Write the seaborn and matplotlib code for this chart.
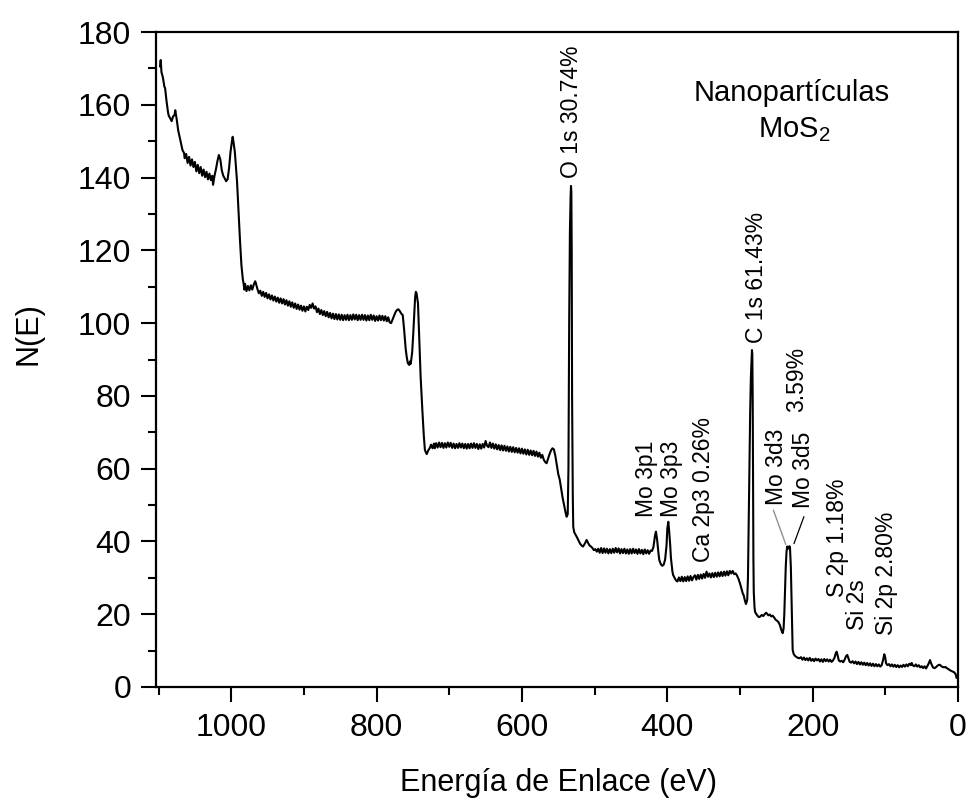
import matplotlib
matplotlib.use("Agg")
import matplotlib.pyplot as plt
from matplotlib.ticker import MultipleLocator
import seaborn as sns
import pandas as pd

# ---------------- data: (binding energy eV, N(E)) ----------------
# Region 1: high binding energy background (1098-984 eV)
region_high = [
    (1098, 170.5), (1097, 172.3), (1096, 169.0), (1094, 167.5), (1092, 165.0), (1091, 164.6),
    (1089, 161.0), (1087, 158.0), (1086, 157.0), (1084, 156.3), (1082, 155.5), (1080, 156.8),
    (1078, 157.2), (1077, 158.5), (1075, 156.0), (1073, 153.0), (1071, 151.2), (1069, 149.5),
    (1067, 147.5), (1065, 146.8), (1064, 145.3), (1062, 146.5), (1060, 144.0), (1058, 145.7),
    (1056, 143.3), (1054, 145.0), (1052, 142.9), (1050, 144.3), (1048, 141.7), (1046, 143.5),
    (1044, 141.2), (1042, 142.9), (1040, 140.5), (1038, 142.2), (1036, 140.1), (1034, 141.6),
    (1032, 139.5), (1030, 141.1), (1028, 139.3), (1026, 140.5), (1025, 138.0), (1023, 140.5),
    (1021, 142.3), (1019, 144.5), (1017, 146.2), (1015, 145.0), (1013, 142.0), (1011, 140.5),
    (1009, 139.8), (1007, 139.0), (1005, 139.5), (1003, 142.5), (1001, 147.0), (999, 150.0),
    (998, 151.2), (997, 150.0), (995, 147.0), (993, 141.5), (992, 138.9), (990, 131.0),
    (988, 123.0), (986, 116.0), (984, 112.0),
]

# Region 2: plateau and O KLL Auger structure (983-721 eV)
region_auger = [
    (983, 110.9), (982, 109.2), (981, 110.8), (979, 108.8), (977, 110.2), (975, 109.0),
    (973, 110.4), (971, 109.2), (969, 110.6), (967, 111.5), (966, 110.9), (964, 109.4),
    (962, 108.2), (960, 108.9), (958, 107.5), (956, 108.6), (954, 107.2), (952, 108.3),
    (950, 106.8), (948, 107.9), (946, 106.5), (944, 107.6), (942, 106.2), (940, 107.3),
    (938, 105.9), (936, 107.0), (934, 105.6), (932, 106.8), (930, 105.4), (928, 106.6),
    (926, 105.1), (924, 106.3), (922, 104.8), (920, 106.0), (918, 104.5), (916, 105.7),
    (914, 104.2), (912, 105.4), (910, 103.9), (908, 105.1), (906, 103.7), (904, 104.8),
    (902, 103.4), (900, 104.6), (898, 103.2), (896, 104.5), (894, 103.6), (892, 105.0),
    (890, 104.2), (888, 105.4), (886, 104.0), (884, 104.6), (882, 103.0), (880, 104.0),
    (878, 102.5), (876, 103.6), (874, 102.2), (872, 103.3), (870, 101.9), (868, 103.1),
    (866, 101.6), (864, 102.8), (862, 101.3), (860, 102.6), (858, 101.1), (856, 102.5),
    (854, 101.0), (852, 102.4), (850, 100.9), (848, 102.3), (846, 100.8), (844, 102.2),
    (842, 100.9), (840, 102.3), (838, 100.8), (836, 102.2), (834, 100.9), (832, 102.4),
    (830, 101.0), (828, 102.3), (826, 100.8), (824, 102.2), (822, 100.9), (820, 102.3),
    (818, 100.9), (816, 102.2), (814, 100.7), (812, 102.1), (810, 100.8), (808, 102.3),
    (806, 100.9), (804, 102.1), (802, 100.6), (800, 101.9), (798, 100.7), (796, 102.1),
    (794, 100.8), (792, 102.0), (790, 100.7), (788, 101.9), (786, 100.5), (784, 101.6),
    (782, 100.2), (780, 100.0), (778, 101.0), (776, 102.0), (774, 103.0), (772, 103.6),
    (770, 103.8), (768, 103.3), (766, 102.6), (764, 102.2), (762, 98.0), (760, 93.0),
    (758.6, 90.8), (757, 89.0), (755, 88.5), (754, 89.5), (753, 88.8), (751, 92.0),
    (749.5, 97.2), (748, 103.0), (747, 107.0), (746, 108.6), (745, 108.2), (743, 105.4),
    (741.5, 97.0), (739.4, 85.3), (737, 76.0), (735, 69.0), (733.5, 65.1), (731, 64.0),
    (729, 65.0), (727, 65.6), (725, 66.6), (723, 65.6), (721, 66.9),
]

# Region 3: plateau and O 1s peak (720-497 eV)
region_o1s = [
    (720, 65.6), (718, 67.0), (716, 65.8), (714, 67.2), (712, 65.9), (710, 67.1), (708, 65.7),
    (706, 67.0), (704, 65.8), (702, 67.2), (700, 66.0), (698, 67.1), (696, 65.7), (694, 66.9),
    (692, 65.6), (690, 66.8), (688, 65.7), (686, 67.0), (684, 65.8), (682, 66.9), (680, 65.6),
    (678, 66.8), (676, 65.5), (674, 66.8), (672, 65.6), (670, 66.9), (668, 65.7), (666, 67.0),
    (664, 65.7), (662, 66.8), (660, 65.4), (658, 66.7), (656, 65.5), (654, 66.8), (652, 65.8),
    (650, 67.6), (648, 66.3), (646, 65.9), (644, 67.2), (642, 65.7), (640, 66.9), (638, 65.5),
    (636, 66.7), (634, 65.3), (632, 66.5), (630, 65.1), (628, 66.4), (626, 65.0), (624, 66.3),
    (622, 64.9), (620, 66.1), (618, 64.7), (616, 66.0), (614, 64.6), (612, 65.9), (610, 64.5),
    (608, 65.7), (606, 64.4), (604, 65.6), (602, 64.2), (600, 65.5), (598, 64.1), (596, 65.3),
    (594, 63.9), (592, 65.2), (590, 63.8), (588, 65.0), (586, 63.7), (584, 64.9), (582, 63.5),
    (580, 64.7), (578, 63.3), (576, 64.4), (574, 63.0), (572, 63.8), (570, 62.5), (568, 61.8),
    (566, 61.5), (564, 62.8), (562, 64.0), (560, 65.0), (558, 65.6), (556, 65.3), (554, 63.5),
    (552, 61.0), (550, 58.5), (548, 57.0), (546, 54.5), (544, 52.0), (542, 50.0), (540, 48.0),
    (538.5, 46.8), (537, 47.5), (536, 60.0), (535, 100.0), (534, 125.0), (533, 135.0),
    (532.5, 137.7), (532, 136.0), (531.5, 120.0), (531, 80.0), (530, 52.0), (529.4, 44.0),
    (528, 42.5), (526, 41.8), (524.7, 41.3), (522, 40.2), (520, 39.4), (518, 38.9), (516, 38.6),
    (514, 39.2), (512, 40.0), (511, 40.4), (509, 39.6), (507, 38.9), (505, 38.6), (503, 38.2),
    (501, 37.6), (499, 37.9), (497, 37.2),
]

# Region 4: Mo 3p, Ca 2p, C 1s (495-279 eV)
region_mid = [
    (495, 38.0), (493, 36.9), (491, 38.2), (489, 36.8), (487, 38.1), (485, 36.9), (483, 38.0),
    (481, 36.7), (479, 37.9), (477, 36.8), (475, 38.0), (473, 36.9), (471, 38.2), (469, 37.0),
    (467, 38.1), (465, 36.7), (463, 37.9), (461, 36.8), (459, 38.0), (457, 36.7), (455, 37.8),
    (453, 36.6), (451, 37.9), (449, 36.7), (447, 38.0), (445, 36.8), (443, 37.8), (441, 36.6),
    (439, 37.9), (437, 36.7), (435, 37.7), (433, 36.5), (431, 37.8), (429, 36.7), (427, 37.6),
    (425, 36.6), (423, 37.5), (421, 37.4), (419, 38.5), (417, 41.5), (415.6, 42.7), (414, 40.5),
    (412, 36.5), (411, 34.9), (409, 33.8), (407, 33.3), (405, 33.6), (403, 35.0), (401, 39.0),
    (400, 43.5), (398.6, 45.4), (397.5, 43.0), (396, 39.0), (395, 35.5), (393, 31.8), (392, 30.8),
    (390, 30.0), (388, 29.3), (386, 29.0), (384, 30.1), (382, 29.1), (380, 30.3), (378, 29.0),
    (376, 30.2), (374, 29.1), (372, 30.4), (370, 29.2), (368, 30.5), (366, 29.3), (364, 30.2),
    (362, 30.7), (360, 29.5), (358, 30.8), (356, 29.7), (354, 30.9), (352, 29.8), (350, 31.1),
    (348, 30.0), (346, 31.7), (344, 30.3), (342, 31.2), (340, 30.1), (338, 31.3), (336, 30.2),
    (334, 31.4), (332, 30.3), (330, 31.5), (328, 30.4), (326, 31.6), (324, 30.5), (322, 31.7),
    (320, 30.6), (318, 31.8), (316, 30.7), (314, 31.9), (312, 31.2), (310, 31.9), (308, 31.0),
    (306, 31.2), (304.5, 30.8), (302, 29.7), (300, 28.5), (298, 27.0), (296, 25.6), (295, 25.3),
    (293, 23.6), (291.7, 22.8), (290, 24.0), (289, 30.0), (288, 45.0), (287, 60.0), (286, 75.0),
    (285, 85.0), (284, 90.5), (283.5, 92.6), (283, 91.5), (282.5, 80.0), (282, 55.0),
    (281.5, 35.0), (281, 26.0), (280, 22.0), (279.3, 20.7),
]

# Region 5: Mo 3d, S 2p, Si 2s, Si 2p and valence band (278-2 eV)
region_low = [
    (278, 20.2), (276, 19.6), (274, 19.2), (272.5, 19.3), (270, 19.8), (268, 19.5), (266, 20.0),
    (264, 20.4), (263, 20.2), (261, 19.7), (259, 19.9), (257, 19.4), (255, 19.6), (253, 19.1),
    (251, 18.5), (249, 18.2), (247.3, 17.9), (245, 17.0), (243, 15.6), (241.2, 14.8), (240, 16.0),
    (239, 20.0), (238, 27.0), (237, 33.0), (236, 37.0), (235, 38.6), (234, 38.0), (233, 38.3),
    (232, 38.7), (231.2, 38.4), (230, 33.0), (229, 24.0), (228, 15.0), (227.5, 10.2), (226, 9.0),
    (224, 8.5), (222, 8.2), (220, 8.0), (218, 7.9), (216, 8.2), (214, 7.5), (212, 8.1), (210, 7.4),
    (208, 7.9), (206, 7.3), (204, 8.0), (202, 7.2), (200, 7.7), (198, 7.1), (196, 7.8), (194, 7.3),
    (192, 7.7), (190, 7.0), (188, 7.6), (186, 6.9), (184, 7.7), (182, 7.1), (180, 7.6), (178, 7.0),
    (176, 7.5), (174, 6.9), (172, 7.3), (170, 8.0), (168, 9.4), (167, 9.7), (166, 9.0), (164, 7.3),
    (162, 7.0), (160, 7.2), (158, 6.8), (156, 7.5), (154, 8.5), (152.3, 8.8), (151, 8.0),
    (149, 6.9), (147, 6.7), (145, 7.1), (143, 6.5), (141, 7.0), (139, 6.3), (137, 6.9), (135, 6.2),
    (133, 6.8), (131, 6.1), (129, 6.7), (127, 6.0), (125, 6.6), (123, 5.9), (121, 6.5), (119, 5.8),
    (117, 6.4), (115, 5.7), (113, 6.3), (111, 5.7), (109, 6.2), (107, 5.6), (105, 6.0), (103, 7.5),
    (101.4, 9.0), (100, 8.0), (99, 6.5), (97, 6.0), (95, 6.3), (93, 5.7), (91, 6.2), (89, 5.6),
    (87, 6.1), (85, 5.5), (83, 6.0), (81, 5.4), (79, 5.9), (77, 5.5), (75, 6.1), (73, 5.6),
    (71, 6.2), (69, 5.7), (67, 6.4), (65, 6.0), (63.7, 6.6), (62, 5.9), (60, 5.7), (58, 6.2),
    (56, 5.6), (54, 6.0), (52, 5.4), (50, 5.7), (48, 5.2), (46, 5.7), (44, 5.1), (42, 5.8),
    (40, 6.6), (38.5, 7.4), (37, 6.5), (35, 5.6), (34, 5.3), (32, 5.2), (30, 5.5), (28, 5.9),
    (26, 6.1), (24.8, 6.1), (23, 5.7), (21, 5.5), (19, 5.4), (17, 5.5), (15.6, 5.2), (13, 4.9),
    (11, 4.6), (9, 4.4), (7, 4.2), (5, 4.0), (3, 3.4), (2, 2.5),
]

# Peak labels: text, energy (eV), lower end of the text (N(E) units)
label_texts = ["O 1s 30.74%", "C 1s 61.43%", "3.59%", "Mo 3d3", "Mo 3d5", "Mo 3p1", "Mo 3p3",
               "Ca 2p3 0.26%", "S 2p 1.18%", "Si 2s", "Si 2p 2.80%"]
label_energy = [531.2, 276.8, 222.0, 250.4, 212.8, 428.4, 394.0, 349.5, 166.0, 138.5, 99.0]
label_bottom = [140.0, 94.6, 75.6, 50.0, 49.2, 46.7, 46.7, 34.3, 24.7, 15.7, 14.3]

# Leader lines from the Mo 3d labels to the peak: (E_start, N_start, E_end, N_end)
leader_3d3 = [254.0, 48.6, 237.0, 39.2]
leader_3d5 = [212.0, 46.8, 225.7, 39.4]

x_ticks = [1000, 800, 600, 400, 200, 0]
y_ticks = [0, 20, 40, 60, 80, 100, 120, 140, 160, 180]

# ---------------- figure ----------------
sns.set_style("ticks")
plt.rcParams["font.family"] = ["Liberation Sans", "DejaVu Sans"]
plt.rcParams["mathtext.fontset"] = "custom"
plt.rcParams["mathtext.rm"] = "Liberation Sans"
plt.rcParams["mathtext.it"] = "Liberation Sans"
for key in ["text.color", "axes.labelcolor", "xtick.color", "ytick.color", "axes.edgecolor"]:
    plt.rcParams[key] = "black"

points = region_high + region_auger + region_o1s + region_mid + region_low
df = pd.DataFrame(points, columns=["Energía de Enlace (eV)", "N(E)"])

fig = plt.figure(figsize=(9.71, 8.02), dpi=100)
ax = fig.add_axes([156 / 971, 115 / 802, 802 / 971, 655 / 802])

sns.lineplot(data=df, x="Energía de Enlace (eV)", y="N(E)", sort=False, estimator=None,
             color="black", linewidth=1.5, ax=ax)

ax.set_xlim(1103.5, 0)
ax.set_ylim(0, 180)
ax.set_xticks(x_ticks)
ax.set_yticks(y_ticks)
ax.xaxis.set_minor_locator(MultipleLocator(100))
ax.yaxis.set_minor_locator(MultipleLocator(10))
ax.tick_params(which="major", direction="out", length=11, width=1.5, labelsize=23,
               top=False, right=False, colors="black")
ax.tick_params(axis="x", which="major", pad=8)
ax.tick_params(axis="y", which="major", pad=7)
ax.tick_params(which="minor", direction="out", length=6, width=1.5, top=False, right=False,
               colors="black")
for sp in ax.spines.values():
    sp.set_linewidth(1.6)
    sp.set_color("black")
    sp.set_visible(True)

ax.set_xlabel("Energía de Enlace (eV)", fontsize=22)
ax.set_ylabel("N(E)", fontsize=22)
ax.xaxis.set_label_coords(0.502, -0.1466)
ax.xaxis.label.set_va("center")
ax.yaxis.set_label_coords(-0.1596, 0.539)
ax.yaxis.label.set_va("center")

for txt, xe, yb in zip(label_texts, label_energy, label_bottom):
    ax.text(xe, yb, txt, rotation=90, ha="center", va="bottom", fontsize=16.5)

ax.plot(leader_3d3[0::2], leader_3d3[1::2], color="#909090", linewidth=1.0)
ax.plot(leader_3d5[0::2], leader_3d5[1::2], color="black", linewidth=0.9)

ax.text(228.5, 161.0, "Nanopartículas", ha="center", va="baseline", fontsize=21)
ax.text(226.0, 151.0, "MoS$_{2}$", ha="center", va="baseline", fontsize=21)

fig.savefig("out.png", dpi=100)
